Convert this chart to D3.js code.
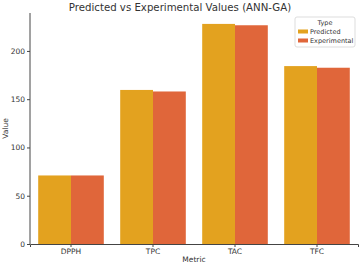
<!DOCTYPE html>
<html>
<head>
<meta charset="utf-8">
<script src="https://cdn.jsdelivr.net/npm/d3@7"></script>
<style>
  body { margin: 0; background: #fff; }
  svg text { font-family: "DejaVu Sans", sans-serif; fill: #333; }
</style>
</head>
<body>
<div id="chart"></div>
<script>
const metrics = ["DPPH", "TPC", "TAC", "TFC"];
const types = ["Predicted", "Experimental"];
const predicted = [71, 159.6, 228, 184.3];
const experimental = [71, 158, 226.6, 182.6];
const yTicks = [0, 50, 100, 150, 200];

const width = 360;
const height = 265;
const margin = {top: 13, right: 2, bottom: 21, left: 30};
const innerWidth = width - margin.left - margin.right;
const innerHeight = 244 - margin.top;

const rows = metrics.map((m, i) => ({metric: m, Predicted: predicted[i], Experimental: experimental[i]}));

const svg = d3.select("#chart")
    .append("svg")
    .attr("width", width)
    .attr("height", height);

const innerChart = svg.append("g")
    .attr("transform", `translate(${margin.left}, ${margin.top})`);

const xScale = d3.scaleBand()
    .domain(metrics)
    .range([0, innerWidth])
    .paddingInner(0.2)
    .paddingOuter(0.1);

const xSub = d3.scaleBand()
    .domain(types)
    .range([0, xScale.bandwidth()]);

const yScale = d3.scaleLinear()
    .domain([0, 239.3])
    .range([innerHeight, 0]);

const colorScale = d3.scaleOrdinal()
    .domain(types)
    .range(["#e3a21f", "#e0663a"]);

//bars
innerChart.selectAll(".group")
    .data(rows)
    .join("g")
        .attr("class", "group")
        .attr("transform", d => `translate(${xScale(d.metric)}, 0)`)
    .selectAll("rect")
    .data(d => types.map(t => ({type: t, value: d[t]})))
    .join("rect")
        .attr("x", d => xSub(d.type))
        .attr("y", d => yScale(d.value))
        .attr("width", xSub.bandwidth())
        .attr("height", d => innerHeight - yScale(d.value))
        .attr("fill", d => colorScale(d.type));

//axes
const bottomAxis = d3.axisBottom(xScale).tickSize(3).tickPadding(2);
const xAxis = innerChart.append("g")
    .attr("transform", `translate(0, ${innerHeight})`)
    .call(bottomAxis);

const leftAxis = d3.axisLeft(yScale).tickValues(yTicks).tickSize(3).tickPadding(2);
const yAxis = innerChart.append("g").call(leftAxis);

[xAxis, yAxis].forEach(ax => {
    ax.attr("font-size", 7.5).attr("font-family", "DejaVu Sans, sans-serif");
    ax.select(".domain").attr("stroke", "#444").attr("stroke-width", 1);
    ax.selectAll(".tick line").attr("stroke", "#444");
    ax.selectAll(".tick text").attr("fill", "#333");
});
yAxis.select(".domain").attr("d", `M0,${innerHeight}V0`);

//titles
svg.append("text")
    .text("Predicted vs Experimental Values (ANN-GA)")
    .attr("x", width / 2)
    .attr("y", 11)
    .attr("text-anchor", "middle")
    .style("font-size", "10.2px");

svg.append("text")
    .text("Metric")
    .attr("x", margin.left + innerWidth / 2)
    .attr("y", 262)
    .attr("text-anchor", "middle")
    .style("font-size", "7.5px");

svg.append("text")
    .text("Value")
    .attr("transform", `translate(8, ${margin.top + innerHeight / 2}) rotate(-90)`)
    .attr("text-anchor", "middle")
    .style("font-size", "7.5px");

//legend
const legend = svg.append("g").attr("transform", "translate(295, 17)");
legend.append("rect")
    .attr("width", 60).attr("height", 30).attr("rx", 2)
    .attr("fill", "#fff").attr("stroke", "#ddd");
legend.append("text")
    .text("Type")
    .attr("x", 30).attr("y", 8)
    .attr("text-anchor", "middle")
    .style("font-size", "6.5px");
types.forEach((t, i) => {
    legend.append("rect")
        .attr("x", 3).attr("y", 12.5 + i * 9)
        .attr("width", 10).attr("height", 4)
        .attr("fill", colorScale(t));
    legend.append("text")
        .text(t)
        .attr("x", 15).attr("y", 17 + i * 9)
        .style("font-size", "6.5px");
});
</script>
</body>
</html>
